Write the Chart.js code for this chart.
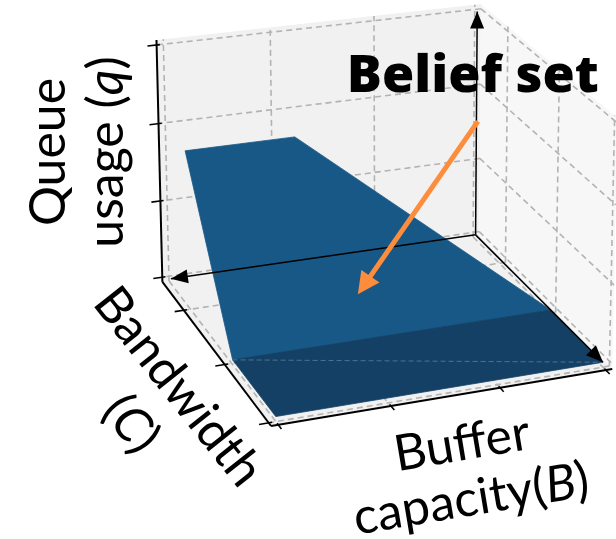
<!DOCTYPE html>
<html>
<head>
<meta charset="utf-8">
<script src="https://cdn.jsdelivr.net/npm/chart.js@4.4.1/dist/chart.umd.min.js"></script>
<style>
  html, body { margin: 0; padding: 0; background: #ffffff; }
  #wrap { position: relative; width: 616px; height: 539px; }
</style>
</head>
<body>
<div id="wrap"><canvas id="chart" width="616" height="539"></canvas></div>
<script>
// ---- axis ranges and tick values (arbitrary units) ----
const bRange = [0, 3];          // buffer capacity B
const cRange = [0, 5];          // bandwidth C
const qRange = [0, 3];          // queue usage q
const bTicks = [0, 1, 2, 3];
const cTicks = [1, 3, 5];
const qTicks = [0, 1, 2, 3];

// ---- belief set surface, one row per bandwidth value ----
const beliefC     = [0.9, 3.05, 5.0];
const beliefQ     = [1.94, 0.0, 0.0];
const beliefBLow  = [1.98, 0.0, 0.0];
const beliefBHigh = [3.0, 3.0, 3.0];

// point of the set that the annotation arrow points at
const beliefMark = { b: 1.75, c: 2.59, q: 0.41 };

// ---- styles ----
const PANE_BACK = '#f1f1f1';
const PANE_SIDE = '#f7f7f7';
const PANE_FLOOR = '#f1f1f1';
const GRID = { borderColor: '#b3b3b3', borderWidth: 1.6, borderDash: [6, 4] };
const FACET_COLORS = ['#185886', '#134064'];
const ORANGE = '#fd8d3c';
const FONT = 'Lato, "Open Sans", sans-serif';
const TITLE_FONT = '"Open Sans", Lato, sans-serif';

// ---- 3D view: pane corners (unit cube) placed on the canvas ----
const MARGIN = 1 / 48;
const viewAnchors = [
  { u: [0, 0, 0], px: [479, 237] },
  { u: [1, 0, 0], px: [162, 280] },
  { u: [0, 1, 0], px: [612, 369] },
  { u: [1, 1, 0], px: [272, 427] },
  { u: [1, 0, 1], px: [156, 41] },
  { u: [0, 0, 1], px: [482, 4] },
  { u: [0, 1, 1], px: [617, 117] }
];
const SC = 1 / 500;

function solveLinear(A, b) {
  const n = b.length;
  for (let i = 0; i < n; i++) {
    let p = i;
    for (let r = i + 1; r < n; r++) if (Math.abs(A[r][i]) > Math.abs(A[p][i])) p = r;
    [A[i], A[p]] = [A[p], A[i]]; [b[i], b[p]] = [b[p], b[i]];
    for (let r = i + 1; r < n; r++) {
      const f = A[r][i] / A[i][i];
      for (let k = i; k < n; k++) A[r][k] -= f * A[i][k];
      b[r] -= f * b[i];
    }
  }
  const x = new Array(n).fill(0);
  for (let i = n - 1; i >= 0; i--) {
    let s = b[i];
    for (let k = i + 1; k < n; k++) s -= A[i][k] * x[k];
    x[i] = s / A[i][i];
  }
  return x;
}

// least-squares perspective camera (3x4 matrix, last entry fixed to 1)
function fitCamera(anchors) {
  const rows = [], rhs = [];
  anchors.forEach(({ u: [X, Y, Z], px }) => {
    const x = px[0] * SC, y = px[1] * SC;
    rows.push([X, Y, Z, 1, 0, 0, 0, 0, -x * X, -x * Y, -x * Z]); rhs.push(x);
    rows.push([0, 0, 0, 0, X, Y, Z, 1, -y * X, -y * Y, -y * Z]); rhs.push(y);
  });
  const n = 11;
  const M = [...Array(n)].map(() => new Array(n).fill(0));
  const v = new Array(n).fill(0);
  rows.forEach((r, i) => {
    for (let a = 0; a < n; a++) {
      v[a] += r[a] * rhs[i];
      for (let c = 0; c < n; c++) M[a][c] += r[a] * r[c];
    }
  });
  return solveLinear(M, v);
}
const CAM = fitCamera(viewAnchors);

function toPane(v, r) {
  const n = (v - r[0]) / (r[1] - r[0]);
  return (n + MARGIN) / (1 + 2 * MARGIN);
}
function project(b, c, q) {
  const X = toPane(b, bRange), Y = toPane(c, cRange), Z = toPane(q, qRange);
  const w = CAM[8] * X + CAM[9] * Y + CAM[10] * Z + 1;
  return {
    x: (CAM[0] * X + CAM[1] * Y + CAM[2] * Z + CAM[3]) / w / SC,
    y: (CAM[4] * X + CAM[5] * Y + CAM[6] * Z + CAM[7]) / w / SC
  };
}

const span = r => r[1] - r[0];
const bLo = bRange[0] - MARGIN * span(bRange), bHi = bRange[1] + MARGIN * span(bRange);
const cLo = cRange[0] - MARGIN * span(cRange), cHi = cRange[1] + MARGIN * span(cRange);
const qLo = qRange[0] - MARGIN * span(qRange), qHi = qRange[1] + MARGIN * span(qRange);

// ---- datasets, listed back to front ----
const datasets = [];
function addPath(pts, style) {
  datasets.push(Object.assign({
    data: pts.map(p => project(p[0], p[1], p[2])),
    showLine: true, pointRadius: 0, pointHoverRadius: 0, tension: 0,
    borderWidth: 0, borderColor: 'rgba(0,0,0,0)', backgroundColor: 'rgba(0,0,0,0)',
    fill: false, order: -datasets.length
  }, style));
}
function addQuad(corners, color) {
  addPath([...corners, corners[0]], { fill: 'shape', backgroundColor: color });
}

// panes
addQuad([[bLo, cLo, qLo], [bHi, cLo, qLo], [bHi, cLo, qHi], [bLo, cLo, qHi]], PANE_BACK);
addQuad([[bLo, cLo, qLo], [bLo, cHi, qLo], [bLo, cHi, qHi], [bLo, cLo, qHi]], PANE_SIDE);
addQuad([[bLo, cLo, qLo], [bHi, cLo, qLo], [bHi, cHi, qLo], [bLo, cHi, qLo]], PANE_FLOOR);

// grid lines on the panes
qTicks.forEach(q => {
  addPath([[bLo, cLo, q], [bHi, cLo, q]], GRID);
  addPath([[bLo, cLo, q], [bLo, cHi, q]], GRID);
});
bTicks.forEach(b => {
  addPath([[b, cLo, qLo], [b, cLo, qHi]], GRID);
  addPath([[b, cLo, qLo], [b, cHi, qLo]], GRID);
});
cTicks.forEach(c => {
  addPath([[bLo, c, qLo], [bLo, c, qHi]], GRID);
  addPath([[bLo, c, qLo], [bHi, c, qLo]], GRID);
});

// belief set surface facets
for (let i = 0; i < beliefC.length - 1; i++) {
  const pts = [
    [beliefBLow[i], beliefC[i], beliefQ[i]],
    [beliefBHigh[i], beliefC[i], beliefQ[i]],
    [beliefBHigh[i + 1], beliefC[i + 1], beliefQ[i + 1]],
    [beliefBLow[i + 1], beliefC[i + 1], beliefQ[i + 1]]
  ];
  addPath([...pts, pts[0]], {
    fill: 'shape', backgroundColor: FACET_COLORS[i],
    borderColor: FACET_COLORS[i], borderWidth: 0.8
  });
}
// faint seam across the flat facet
{
  const n = beliefC.length - 1;
  addPath([[beliefBHigh[n - 1], beliefC[n - 1], beliefQ[n - 1]], [beliefBLow[n], beliefC[n], beliefQ[n]]],
    { borderColor: 'rgba(150,175,200,0.45)', borderWidth: 1, borderDash: [5, 3] });
}

// axis lines
const AXIS = { borderColor: '#000000', borderWidth: 2 };
addPath([[bHi, cLo, qLo], [bHi, cLo, qHi]], AXIS);
addPath([[bHi, cLo, qLo], [bHi, cHi, qLo]], AXIS);
addPath([[bHi, cHi, qLo], [bLo, cHi, qLo]], AXIS);

// tick marks
const TICK = { borderColor: '#000000', borderWidth: 1.6 };
const tIn = 0.01, tOut = 0.028;
qTicks.forEach(q => addPath([[bHi - tIn * span(bRange), cLo, q], [bHi + tOut * span(bRange), cLo, q]], TICK));
cTicks.forEach(c => addPath([[bHi - tIn * span(bRange), c, qLo], [bHi + tOut * span(bRange), c, qLo]], TICK));
bTicks.forEach(b => addPath([[b, cHi - tIn * span(cRange), qLo], [b, cHi + tOut * span(cRange), qLo]], TICK));

// direction arrows from the origin
const ARROW = { borderColor: '#000000', borderWidth: 1.5 };
const arrowEnds = [[bRange[1], 0, 0], [0, cRange[1], 0], [0, 0, qRange[1]]];
arrowEnds.forEach(e => addPath([[0, 0, 0], e], ARROW));

// annotation arrow: tip on the set, tail offset in pixels
const markTip = project(beliefMark.b, beliefMark.c, beliefMark.q);
const markTail = { x: markTip.x + 120, y: markTip.y - 173 };
const ORANGE_HEAD = { len: 22, half: 11 };
{
  const dx = markTip.x - markTail.x, dy = markTip.y - markTail.y, d = Math.hypot(dx, dy);
  const base = { x: markTip.x - dx / d * (ORANGE_HEAD.len - 2), y: markTip.y - dy / d * (ORANGE_HEAD.len - 2) };
  datasets.push({
    data: [markTail, base], showLine: true, pointRadius: 0, borderColor: ORANGE,
    borderWidth: 5, fill: false, order: -datasets.length
  });
}

// ---- labels ----
const labels = [
  { x: 49, y: 152, angle: -90, gap: 58,
    lines: [[{ t: 'Queue' }], [{ t: 'usage (' }, { t: 'q', it: true }, { t: ')' }]] },
  { x: 178, y: 387, angle: 51.6, gap: 60,
    lines: [[{ t: 'Bandwidth' }], [{ t: '(' }, { t: 'C', it: true }, { t: ')' }]] },
  { x: 462, y: 444, angle: -9.5, gap: 56,
    lines: [[{ t: 'Buffer' }], [{ t: 'capacity(' }, { t: 'B', it: true }, { t: ')' }]] }
];
const LABEL_SIZE = 50;

function drawLabel(ctx, lab) {
  const th = lab.angle * Math.PI / 180;
  lab.lines.forEach((segs, k) => {
    const cx = lab.x - k * lab.gap * Math.sin(th);
    const cy = lab.y + k * lab.gap * Math.cos(th);
    ctx.save();
    ctx.translate(cx, cy);
    ctx.rotate(th);
    ctx.fillStyle = '#000000';
    ctx.textBaseline = 'middle';
    ctx.textAlign = 'left';
    const fontFor = s => (s.it ? 'italic ' : '') + LABEL_SIZE + 'px ' + FONT;
    let total = 0;
    const widths = segs.map(s => { ctx.font = fontFor(s); const w = ctx.measureText(s.t).width; total += w; return w; });
    let x = -total / 2;
    segs.forEach((s, i) => { ctx.font = fontFor(s); ctx.fillText(s.t, x, 0); x += widths[i]; });
    ctx.restore();
  });
}

function head(ctx, from, to, len, half, color) {
  const dx = to.x - from.x, dy = to.y - from.y, d = Math.hypot(dx, dy);
  const ux = dx / d, uy = dy / d;
  const bx = to.x - ux * len, by = to.y - uy * len;
  ctx.beginPath();
  ctx.moveTo(to.x, to.y);
  ctx.lineTo(bx - uy * half, by + ux * half);
  ctx.lineTo(bx + uy * half, by - ux * half);
  ctx.closePath();
  ctx.fillStyle = color;
  ctx.fill();
}

const overlay = {
  id: 'overlay',
  afterDatasetsDraw(chart) {
    const ctx = chart.ctx, sx = chart.scales.x, sy = chart.scales.y;
    const px = p => ({ x: sx.getPixelForValue(p.x), y: sy.getPixelForValue(p.y) });
    ctx.save();
    const o = px(project(0, 0, 0));
    arrowEnds.forEach(e => head(ctx, o, px(project(e[0], e[1], e[2])), 17, 7, '#000000'));
    head(ctx, px(markTail), px(markTip), ORANGE_HEAD.len, ORANGE_HEAD.half, ORANGE);
    labels.forEach(l => drawLabel(ctx, l));
    // annotation text, fitted to its set width
    const tail = px(markTail);
    const title = 'Belief set', titleWidth = 252;
    ctx.font = '800 52px ' + TITLE_FONT;
    ctx.fillStyle = '#000000';
    ctx.textBaseline = 'alphabetic';
    ctx.textAlign = 'left';
    const w = ctx.measureText(title).width;
    ctx.translate(tail.x - 131, tail.y - 29);
    ctx.scale(titleWidth / w, 1);
    ctx.fillText(title, 0, 0);
    ctx.restore();
  }
};

new Chart(document.getElementById('chart'), {
  type: 'scatter',
  data: { datasets },
  options: {
    responsive: false,
    devicePixelRatio: 1,
    animation: false,
    events: [],
    layout: { padding: 0 },
    scales: {
      x: { type: 'linear', min: 0, max: 616, display: false },
      y: { type: 'linear', min: 0, max: 539, reverse: true, display: false }
    },
    plugins: { legend: { display: false }, tooltip: { enabled: false } }
  },
  plugins: [overlay]
});
</script>
</body>
</html>
